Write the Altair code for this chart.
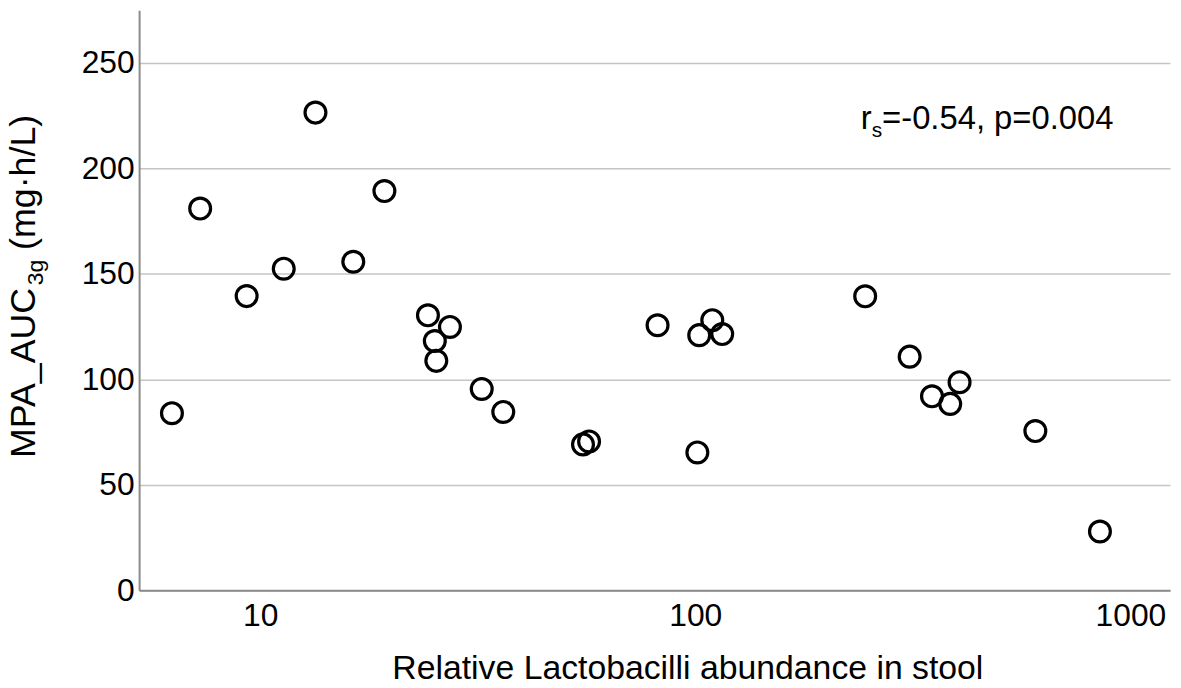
import altair as alt
import pandas as pd

# ---- data ----
abundance = [6.27, 7.28, 9.31, 11.33, 13.4, 16.37, 19.3, 24.3, 25.2, 25.4, 27.3, 32.3, 36.2,
             55.2, 57.0, 81.9, 101.1, 102.1, 109.4, 115.3,
             245.7, 310.9, 349.9, 385.3, 404.9, 604.6, 851.0]
auc = [84.0, 181.0, 139.5, 152.5, 226.5, 155.8, 189.3, 130.4, 118.2, 108.8, 124.9, 95.5, 84.6,
       69.2, 70.6, 125.7, 65.4, 121.0, 128.1, 121.5,
       139.4, 110.8, 92.0, 88.4, 98.7, 75.5, 27.9]
x_ticks = [10, 100, 1000]
y_ticks = [0, 50, 100, 150, 200, 250]
x_title = "Relative Lactobacilli abundance in stool"
y_title_main = "MPA_AUC"
y_title_sub = "3g"
y_title_rest = "(mg·h/L)"
annot_r = "r"
annot_sub = "s"
annot_rest = "=-0.54, p=0.004"

FONT = "Liberation Sans"
W, H = 1038, 584
XDOM = [5.27, 1233]
YDOM = [0, 275]

# Arial / Liberation Sans advance widths (per 1000 em)
AW = {"M": 833, "P": 667, "A": 667, "_": 556, "U": 722, "C": 722, "g": 556, " ": 278,
      "(": 333, ")": 333, "m": 833, "·": 278, "h": 556, "/": 278, "L": 556,
      "r": 333, "s": 500, "=": 584, "-": 333, ".": 278, ",": 278, "p": 556}
def tw(s, size):
    return sum(AW.get(c, 556) for c in s) * size / 1000.0

df = pd.DataFrame({"abundance": abundance, "auc": auc})

xscale = alt.Scale(type="log", domain=XDOM, nice=False)
yscale = alt.Scale(domain=YDOM, nice=False, zero=False)

TICKF = 32
TITLEF = 34

points = alt.Chart(df).mark_point(
    shape="circle", filled=False, fill=None, stroke="black", strokeWidth=3.2, size=441, opacity=1
).encode(
    x=alt.X("abundance:Q", scale=xscale,
            axis=alt.Axis(values=x_ticks, format="d", grid=False, ticks=False, tickSize=0,
                          domainColor="#8a8a8a", domainWidth=2,
                          labelFont=FONT, labelFontSize=TICKF, labelColor="black", labelPadding=10,
                          labelFlush=False, labelOverlap=False,
                          title=x_title, titleFont=FONT, titleFontSize=TITLEF, titleFontWeight="normal",
                          titleColor="black", titleBaseline="alphabetic", titleY=89,
                          titleX=552, titleAlign="center", titleAnchor="start")),
    y=alt.Y("auc:Q", scale=yscale,
            axis=alt.Axis(values=y_ticks, grid=True, gridColor="#c4c4c4", gridWidth=1.5,
                          ticks=False, tickSize=0, domainColor="#8a8a8a", domainWidth=2,
                          labelFont=FONT, labelFontSize=TICKF, labelColor="black", labelPadding=5,
                          labelFlush=False, title=None)),
)

# ---- annotation r_s=..., p=... ----
AF = 33
ASUB = 21
anchor = pd.DataFrame({"abundance": [240.0], "auc": [218.5]})
def atext(txt, size, dx, dy):
    return alt.Chart(anchor).mark_text(
        text=txt, font=FONT, fontSize=size, color="black", align="left",
        baseline="alphabetic", dx=dx, dy=dy
    ).encode(x=alt.X("abundance:Q", scale=xscale), y=alt.Y("auc:Q", scale=yscale))
ann = (atext(annot_r, AF, 0, 0)
       + atext(annot_sub, ASUB, tw(annot_r, AF), 8)
       + atext(annot_rest, AF, tw(annot_r, AF) + tw(annot_sub, ASUB), 0))

# ---- rotated y-axis title with subscript ----
TF = 36
TSUB = 23
GAP = tw(" ", TF)
L = tw(y_title_main, TF) + tw(y_title_sub, TSUB) + GAP + tw(y_title_rest, TF)
start_y = 279 + L / 2.0
def ytext(txt, size, dx, dy):
    return alt.Chart(anchor).mark_text(
        text=txt, font=FONT, fontSize=size, color="black", align="left",
        baseline="alphabetic", angle=270, dx=dx, dy=dy
    ).encode(x=alt.value(-105), y=alt.value(start_y))
ytitle = (ytext(y_title_main, TF, 0, 0)
          + ytext(y_title_sub, TSUB, tw(y_title_main, TF), 8)
          + ytext(y_title_rest, TF, tw(y_title_main, TF) + tw(y_title_sub, TSUB) + GAP, 0))

chart = alt.layer(points, ann, ytitle).properties(
    width=W, height=H,
    autosize=alt.AutoSizeParams(type="none"),
    padding={"left": 132, "top": 0, "right": 3, "bottom": 96},
    background="white",
).configure_view(stroke=None)

chart.save("out.html", embed_options={"renderer": "svg", "actions": False})
